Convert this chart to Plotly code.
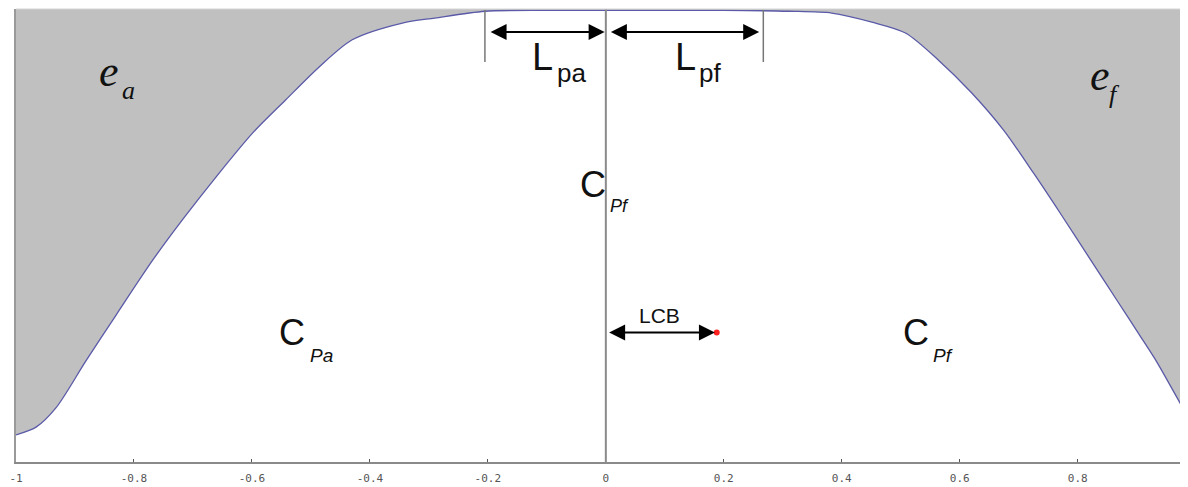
import plotly.graph_objects as go

# Sectional area curve (normalised)
station = [-1.0, -0.966, -0.932, -0.882, -0.830, -0.768, -0.717, -0.661, -0.599, -0.543,
           -0.486, -0.430, -0.345, -0.290, -0.205, -0.100, 0.0, 0.100, 0.200, 0.310,
           0.383, 0.451, 0.508, 0.564, 0.620, 0.674, 0.725, 0.771, 0.826, 0.867,
           0.906, 0.935, 0.962, 0.987]
area = [0.060, 0.077, 0.120, 0.222, 0.325, 0.446, 0.536, 0.629, 0.726, 0.799,
        0.872, 0.932, 0.969, 0.980, 0.995, 0.997, 0.997, 0.997, 0.997, 0.995,
        0.991, 0.971, 0.947, 0.887, 0.815, 0.733, 0.638, 0.548, 0.438, 0.356,
        0.278, 0.219, 0.157, 0.099]

tick_vals = [-1, -0.8, -0.6, -0.4, -0.2, 0, 0.2, 0.4, 0.6, 0.8]
tick_text = ["-1", "-0.8", "-0.6", "-0.4", "-0.2", "0", "0.2", "0.4", "0.6", "0.8"]

lpa = 0.205      # parallel middle body length aft
lpf = 0.267      # parallel middle body length fore
lcb = 0.188      # longitudinal centre of buoyancy
lcb_level = 0.286
arrow_level = 0.949

fig = go.Figure()
fig.add_trace(go.Scatter(
    x=station, y=area, mode="lines", line=dict(color="#5a5aa8", width=1.3, shape="spline", smoothing=0.8),
    fill="tozeroy", fillcolor="white", hoverinfo="skip", showlegend=False))
fig.add_trace(go.Scatter(
    x=[lcb], y=[lcb_level], mode="markers", marker=dict(color="#ff2020", size=6),
    showlegend=False, hoverinfo="skip"))

shapes = [
    dict(type="line", xref="x", yref="y", x0=0, x1=0, y0=0, y1=1,
         line=dict(color="#8a8a8a", width=2)),
    dict(type="line", xref="x", yref="y", x0=-lpa, x1=-lpa, y0=0.883, y1=0.998,
         line=dict(color="#777777", width=1.5)),
    dict(type="line", xref="x", yref="y", x0=lpf, x1=lpf, y0=0.883, y1=0.998,
         line=dict(color="#777777", width=1.5)),
    dict(type="line", xref="paper", yref="paper", x0=0, x1=1, y0=1, y1=1,
         line=dict(color="#d4d4d4", width=1)),
]

def arrow(x0, x1, y):
    return dict(x=x1, y=y, ax=x0, ay=y, xref="x", yref="y", axref="x", ayref="y",
                text="", showarrow=True, arrowhead=2, arrowside="end+start",
                arrowsize=1.6, arrowwidth=2, arrowcolor="black")

sans = "Liberation Sans, Arial, sans-serif"
serif = "Liberation Serif, Times New Roman, serif"

def txt(x, y, s, size, family=sans, anchor="left"):
    return dict(x=x, y=y, xref="x", yref="y", text=s, showarrow=False,
                xanchor=anchor, yanchor="middle",
                font=dict(family=family, size=size, color="#111111"))

annotations = [
    arrow(-lpa + 0.007, -0.002, arrow_level),
    arrow(0.006, lpf - 0.007, arrow_level),
    arrow(0.003, lcb - 0.003, lcb_level),
    txt(-0.128, 0.893, "L", 38),
    txt(-0.087, 0.859, "pa", 26),
    txt(0.114, 0.893, "L", 38),
    txt(0.155, 0.859, "pf", 26),
    txt(-0.048, 0.6115, "C", 36),
    txt(0.004, 0.565, "<i>Pf</i>", 18),
    txt(-0.557, 0.2848, "C", 36),
    txt(-0.505, 0.2362, "<i>Pa</i>", 19),
    txt(0.501, 0.2848, "C", 36),
    txt(0.552, 0.2362, "<i>Pf</i>", 19),
    txt(0.0908, 0.3245, "LCB", 21, anchor="center"),
    txt(-0.862, 0.863, "<i>e</i>", 44, family=serif),
    txt(-0.824, 0.819, "<i>a</i>", 26, family=serif),
    txt(0.818, 0.854, "<i>e</i>", 44, family=serif),
    txt(0.849, 0.812, "<i>f</i>", 26, family=serif),
]

fig.update_layout(
    width=1188, height=487,
    margin=dict(l=6, r=8, t=1, b=33),
    paper_bgcolor="white", plot_bgcolor="#c0c0c0",
    shapes=shapes, annotations=annotations,
    xaxis=dict(range=[-1, 0.987], tickvals=tick_vals, ticktext=tick_text,
               showgrid=False, zeroline=False, showline=True, linecolor="#8a8a8a",
               linewidth=2, ticks="inside", ticklen=3, tickcolor="#555555",
               ticklabelstandoff=5, ticklabeloverflow="allow",
               tickfont=dict(family="DejaVu Sans Mono, monospace", size=11, color="#555555")),
    yaxis=dict(range=[0, 1], showgrid=False, zeroline=False, showticklabels=False,
               showline=True, linecolor="#9a9a9a", linewidth=1.5, ticks=""),
)

fig.write_html("out.html")
